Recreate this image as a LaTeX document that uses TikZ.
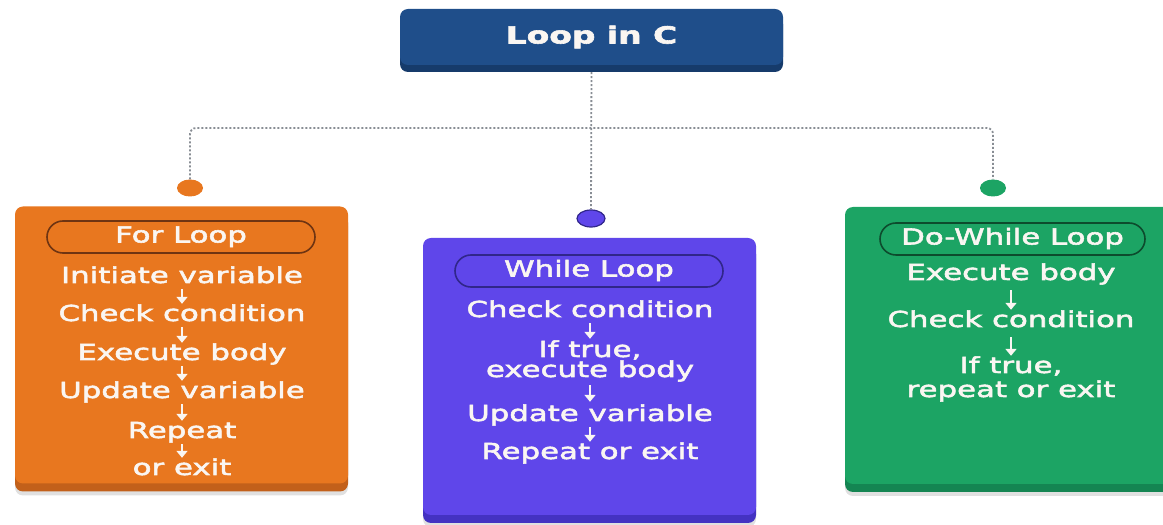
\documentclass[tikz,border=0pt]{standalone}
\usepackage{fontspec}
\setmainfont{DejaVu Sans}[FakeStretch=1.4, FakeBold=2.5]
\usetikzlibrary{arrows.meta,shapes.geometric,shadows}

\definecolor{titleblue}{HTML}{1F4E8A}
\definecolor{titledark}{HTML}{163B6B}
\definecolor{forfill}{HTML}{E8771F}
\definecolor{fordark}{HTML}{C2601A}
\definecolor{forline}{HTML}{6E3412}
\definecolor{whilefill}{HTML}{5F46EA}
\definecolor{whiledark}{HTML}{4432C2}
\definecolor{whileline}{HTML}{30268A}
\definecolor{dofill}{HTML}{1CA464}
\definecolor{dodark}{HTML}{148552}
\definecolor{doline}{HTML}{0D4B2D}
\definecolor{linkgray}{HTML}{888D94}
\definecolor{textwhite}{HTML}{FAF6F2}

\begin{document}
\begin{tikzpicture}[
  x=1pt, y=1pt,
  loopbox/.style n args={2}{rectangle, rounded corners=8pt, minimum width=333pt, minimum height=277pt,
    fill=#1, drop shadow={shadow xshift=0pt, shadow yshift=-12pt, opacity=.12, fill=black},
    drop shadow={shadow xshift=0pt, shadow yshift=-8pt, opacity=1, fill=#2}},
  headpill/.style={rectangle, rounded corners=16pt, minimum width=268pt, minimum height=32pt, draw=#1,
    line width=1.6pt, text=textwhite, font=\fontsize{22}{26}\selectfont, inner sep=0pt,
    text height=16pt, text depth=5pt},
  stepline/.style={text=textwhite, font=\fontsize{22}{26}\selectfont, inner sep=0pt,
    text height=16pt, text depth=5pt},
  steparrow/.style={-{Triangle[length=7pt,width=11pt]}, draw=textwhite, fill=textwhite, line width=2.2pt,
    shorten <=1pt, shorten >=1pt},
  link/.style={draw=linkgray, line width=1.8pt, dash pattern=on 2pt off 2pt},
  branchdot/.style={ellipse, minimum width=26pt, minimum height=17pt, inner sep=0pt}
]
\useasboundingbox (0,0) rectangle (1163,525);

% title
\node[rectangle, rounded corners=8pt, minimum width=383pt, minimum height=56pt, fill=titleblue,
  drop shadow={shadow xshift=0pt, shadow yshift=-7pt, opacity=1, fill=titledark},
  text=textwhite, font=\fontsize{23.5}{28}\selectfont\bfseries] (title) at (591.5,488) {Loop in C};

% the three loop cards
\node[loopbox={forfill}{fordark}] (forbox) at (181.5,180) {};
\node[loopbox={whilefill}{whiledark}] (whilebox) at (589.5,148.5) {};
\node[loopbox={dofill}{dodark}] (dowhilebox) at (1011.5,179.5) {};

% dots on top of the cards
\node[branchdot, fill=forfill] (fordot) at (190,337) {};
\node[branchdot, minimum width=28pt, fill=whilefill, draw=whileline, line width=1.2pt] (whiledot) at (591,306.5) {};
\node[branchdot, fill=dofill] (dowhiledot) at (993,337) {};

\coordinate (branch) at (591,397);
\draw[link, shorten <=7pt] (title.south) -- (whiledot.north);
\draw[link, rounded corners=6pt] (fordot.north) |- (branch) -| (dowhiledot.north);

% for loop
\node[headpill=forline] (forhead) at (181,288) {For Loop};
\node[stepline] (f1) at (182,247.5) {Initiate variable};
\node[stepline, below of=f1, node distance=38pt] (f2) {Check condition};
\node[stepline, below of=f2, node distance=39pt] (f3) {Execute body};
\node[stepline, below of=f3, node distance=38pt] (f4) {Update variable};
\node[stepline, below of=f4, node distance=40pt] (f5) {Repeat};
\node[stepline, below of=f5, node distance=37pt] (f6) {or exit};
\draw[steparrow] (f1) -- (f2);
\draw[steparrow] (f2) -- (f3);
\draw[steparrow] (f3) -- (f4);
\draw[steparrow] (f4) -- (f5);
\draw[steparrow] (f5) -- (f6);

% while loop
\node[headpill=whileline] (whilehead) at (589,254) {While Loop};
\node[stepline] (w1) at (590,213.5) {Check condition};
\node[stepline, below of=w1, node distance=40pt] (w2) {If true,};
\node[stepline, below of=w2, node distance=20pt] (w2b) {execute body};
\node[stepline, below of=w2b, node distance=44pt] (w3) {Update variable};
\node[stepline, below of=w3, node distance=38pt] (w4) {Repeat or exit};
\draw[steparrow, shorten >=2pt] (w1) -- (w2);
\draw[steparrow, shorten <=3pt, shorten >=3pt] (w2b) -- (w3);
\draw[steparrow] (w3) -- (w4);

% do-while loop
\node[headpill=doline, minimum width=265pt] (dowhilehead) at (1012.5,286) {Do-While Loop};
\node[stepline] (d1) at (1011,250.5) {Execute body};
\node[stepline, below of=d1, node distance=47pt] (d2) {Check condition};
\node[stepline, below of=d2, node distance=46pt] (d3) {If true,};
\node[stepline, below of=d3, node distance=24pt] (d3b) {repeat or exit};
\draw[steparrow, shorten <=5pt] (d1) -- (d2);
\draw[steparrow, shorten <=5pt] (d2) -- (d3);
\end{tikzpicture}
\end{document}
